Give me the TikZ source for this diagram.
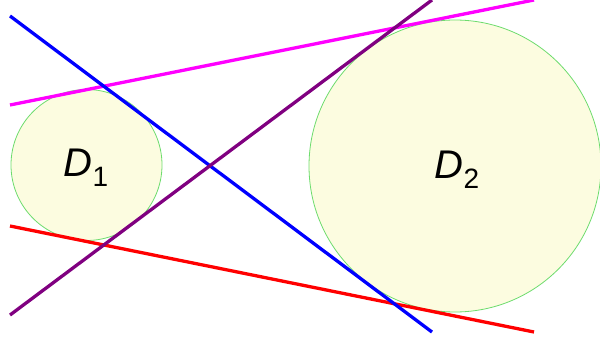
\documentclass[tikz,border=0pt]{standalone}
\usepackage{fontspec}
\setmainfont{Liberation Sans}
\definecolor{magline}{RGB}{255,0,255}
\definecolor{redline}{RGB}{255,0,0}
\definecolor{blueline}{RGB}{0,0,255}
\definecolor{purpline}{RGB}{128,0,128}
\definecolor{diskfill}{RGB}{252,252,224}
\definecolor{diskedge}{RGB}{110,220,110}
\begin{document}
\begin{tikzpicture}[x=1pt,y=-1pt,
  disk/.style={circle,draw=diskedge,line width=0.8pt,fill=diskfill,inner sep=0pt},
  tline/.style={line width=3.3pt},
  lab/.style={font=\fontsize{40}{40}\selectfont\itshape}]
\useasboundingbox (0,0) rectangle (600,337);
\node[disk,minimum size=151pt] (D1) at (86.5,165) {};
\node[disk,minimum size=292pt] (D2) at (455,166) {};
\node[lab] (L1) at (86,168) {D\raisebox{-0.25em}{\fontsize{28}{28}\selectfont\upshape 1}};
\node[lab] (L2) at (457,170) {D\raisebox{-0.25em}{\fontsize{28}{28}\selectfont\upshape 2}};
\coordinate (b1) at (10,16);
\coordinate (b2) at (432,332);
\coordinate (p1) at (10,315);
\coordinate (p2) at (432,0);
\coordinate (m1) at (10,105);
\coordinate (m2) at (534,0);
\coordinate (r1) at (10,226);
\coordinate (r2) at (534,332);
\draw[tline,magline] (m1) -- (m2);
\draw[tline,redline] (r1) -- (r2);
\draw[tline,blueline] (b1) -- (b2);
\draw[tline,purpline] (p1) -- (p2);
\end{tikzpicture}
\end{document}
